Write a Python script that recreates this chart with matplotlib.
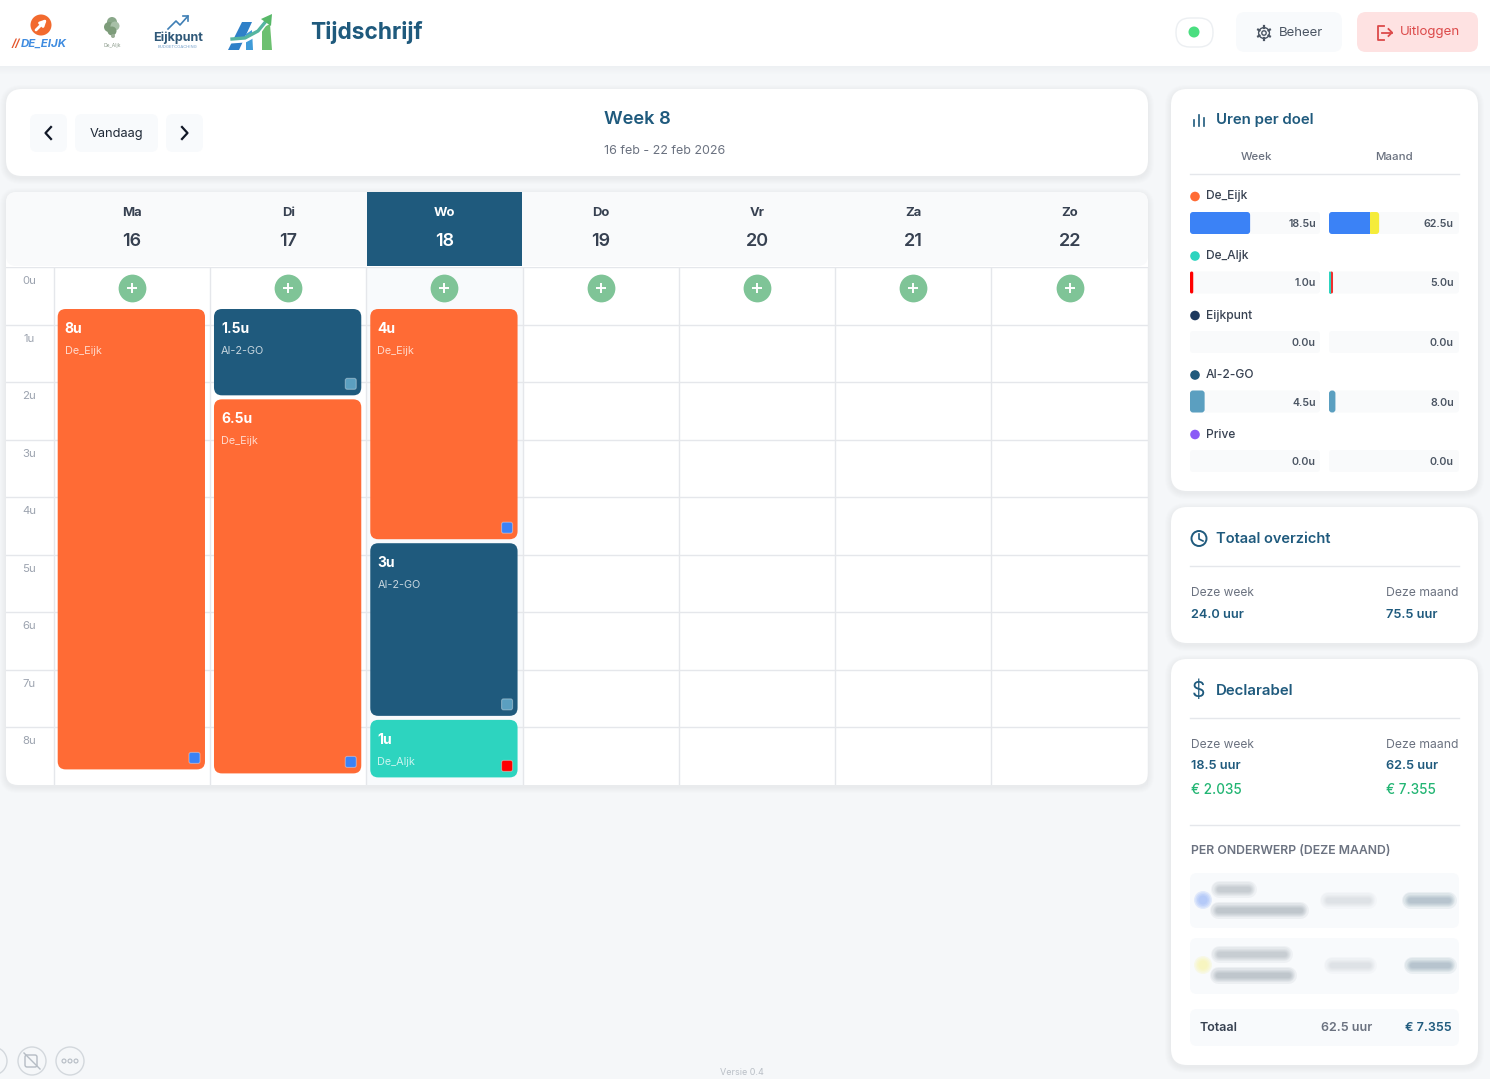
import matplotlib
matplotlib.use("Agg")
import numpy as np
import matplotlib.pyplot as plt
from matplotlib.patches import FancyBboxPatch, Circle, Polygon

plt.rcParams['font.family'] = ['Inter', 'DejaVu Sans']

# ---------- data ----------
days = ["Ma", "Di", "Wo", "Do", "Vr", "Za", "Zo"]
dates = [16, 17, 18, 19, 20, 21, 22]
today_index = 2
hours = list(range(9))
ma_hours = [8]
ma_names = ["De_Eijk"]
di_hours = [1.5, 6.5]
di_names = ["AI-2-GO", "De_Eijk"]
wo_hours = [4, 3, 1]
wo_names = ["De_Eijk", "AI-2-GO", "De_Aljk"]
goals = ["De_Eijk", "De_Aljk", "Eijkpunt", "AI-2-GO", "Prive"]
goal_week = [18.5, 1.0, 0.0, 4.5, 0.0]
goal_month_a = [51.0, 2.5, 0.0, 8.0, 0.0]
goal_month_b = [11.5, 2.5, 0.0, 0.0, 0.0]
week_total = "24.0 uur"
month_total = "75.5 uur"
bill_week = ["18.5 uur", "€ 2.035"]
bill_month = ["62.5 uur", "€ 7.355"]
total_row = ["Totaal", "62.5 uur", "€ 7.355"]

NAVY = "#1f5a7d"
ORANGE = "#ff6b35"
TEAL = "#2dd4bf"
name_colors = {"De_Eijk": ORANGE, "AI-2-GO": NAVY, "De_Aljk": TEAL}
tag_colors = {"De_Eijk": "#3b82f6", "AI-2-GO": "#5b9fc0", "De_Aljk": "#ff0000"}
dot_colors = [ORANGE, TEAL, "#1e3a5f", NAVY, "#8b5cf6"]
bar_a_colors = ["#3b82f6", TEAL, "#888888", "#5b9fc0", "#888888"]
bar_b_colors = ["#f5ec3a", "#ef3030", "#888888", "#5b9fc0", "#888888"]
week_bar_colors = ["#3b82f6", "#ff0000", "#888888", "#5b9fc0", "#888888"]

W, H = 1490, 1079
fig = plt.figure(figsize=(W / 100, H / 100), dpi=100, facecolor="#f5f7f9")
ax = fig.add_axes([0, 0, 1, 1], zorder=1)
ax.set_xlim(0, W)
ax.set_ylim(H, 0)
ax.axis("off")


def rbox(a, x0, y0, x1, y1, r, fc, ec="none", lw=0, z=2, alpha=None, aspect=1.0):
    r = min(r, (x1 - x0) / 2, (y1 - y0) / 2 / aspect)
    p = FancyBboxPatch((x0, y0), x1 - x0, y1 - y0, boxstyle=f"round,pad=0,rounding_size={r}",
                       fc=fc, ec=ec, lw=lw, zorder=z, alpha=alpha, mutation_aspect=aspect)
    a.add_patch(p)
    return p


def card(x0, y0, x1, y1, r=16):
    for i in range(6, 0, -1):
        rbox(ax, x0 - i, y0 - i + 2, x1 + i, y1 + i + 2, r + i, "#b8c0c8", z=1.5, alpha=0.028)
    rbox(ax, x0, y0, x1, y1, r, "white", z=2)


def t(x, y, s, size=10, color="#374151", weight="normal", ha="left", a=None, z=8, **kw):
    a = a or ax
    return a.text(x, y + 1, s, fontsize=size * 0.72, color=color, fontweight=weight, ha=ha, va="center",
                  zorder=z, **kw)


# ---------- header ----------
ax.fill_between([0, W], 0, 66, color="white", zorder=1.8, lw=0)
for i in range(8):
    ax.fill_between([0, W], 66 + i, 67 + i, color="#9aa5b0", alpha=0.08 * (1 - i / 8), zorder=1.7, lw=0)

# logos
ax.add_patch(Circle((41, 25), 10.5, fc="#f26a2e", ec="none", zorder=5))
ax.annotate("", xy=(47, 19), xytext=(36, 30), arrowprops=dict(arrowstyle="-|>", color="white", lw=2, mutation_scale=9, shrinkA=0, shrinkB=0), zorder=6)
t(12, 43, "//", 11, "#e4572e", "bold", style="italic")
t(21, 43, "DE_EIJK", 11.5, "#3f8ce0", "bold", style="italic")
for dx, dy, rad, col in [(0, -6, 5, "#8aa88a"), (-3, -1, 5, "#7d9c7a"), (3, -2, 4.5, "#a8c0a8"), (0, 3, 4.5, "#7d9c7a"), (1, 8, 2, "#9aae96")]:
    ax.add_patch(Circle((112 + dx, 28 + dy), rad, fc=col, ec="none", zorder=5))
t(112, 44, "De_Aljk", 5, "#8a9a8a", ha="center")
ax.plot([168, 176, 180, 188], [29, 21, 25, 16], color="#3f7fb5", lw=1.2, zorder=5)
ax.plot([183, 188, 188], [16, 16, 21], color="#3f7fb5", lw=1.2, zorder=5)
t(178, 37, "Eijkpunt", 12.6, "#2f5878", "bold", ha="center")
t(178, 46, "BUDGETCOACHING", 4.2, "#6f9cc8", ha="center")
ax.add_patch(Polygon([(228, 50), (242, 22), (252, 22), (239, 50)], fc="#2f80c8", ec="none", zorder=5))
ax.add_patch(Polygon([(246, 34), (252, 30), (253, 50), (246, 50)], fc="#3f9bd8", ec="none", zorder=5))
ax.add_patch(Polygon([(262, 28), (270, 24), (272, 50), (262, 50)], fc="#6cc070", ec="none", zorder=5))
ax.plot([231, 245, 258, 267], [41, 40, 33, 20], color="white", lw=3.6, zorder=5.5)
ax.plot([232, 245, 258, 267], [39, 38, 31, 20], color="#55b5a0", lw=2.4, zorder=6)
ax.add_patch(Polygon([(261, 19), (272, 14), (271, 26)], fc="#57b868", ec="none", zorder=6))
t(310, 31, "Tijdschrijf", 22.7, NAVY, "bold")

rbox(ax, 1176, 18, 1213, 47, 14, "white", "#eceff2", 1, z=3)
ax.add_patch(Circle((1194, 32), 5.5, fc="#4ade80", ec="none", zorder=5))
rbox(ax, 1236, 12, 1342, 52, 9, "#f8fafc", z=3)
ax.add_patch(Circle((1264, 33), 5.4, fc="none", ec="#4b5563", lw=1.0, zorder=5))
ax.add_patch(Circle((1264, 33), 2.2, fc="none", ec="#4b5563", lw=1.0, zorder=5))
for ang in np.arange(0, 360, 60) + 30:
    ca, sa = np.cos(np.radians(ang)), np.sin(np.radians(ang))
    ax.plot([1264 + 5.2 * ca, 1264 + 6.8 * ca], [33 + 5.2 * sa, 33 + 6.8 * sa], color="#4b5563", lw=1.6, zorder=5)
t(1279, 31.5, "Beheer", 13.2, "#4b5563")
rbox(ax, 1357, 12, 1478, 52, 9, "#fee2e2", z=3)
ax.plot([1384, 1378, 1378, 1384], [25.5, 25.5, 39.5, 39.5], color="#dc4a4a", lw=1.3, zorder=5)
ax.plot([1382, 1392], [32.5, 32.5], color="#dc4a4a", lw=1.3, zorder=5)
ax.plot([1388.5, 1392, 1388.5], [29, 32.5, 36], color="#dc4a4a", lw=1.3, zorder=5)
t(1400, 31.5, "Uitloggen", 13.3, "#dc4a4a")

# ---------- week card ----------
card(6, 89, 1148, 176)
for x0, x1 in [(30, 67), (75, 158), (166, 203)]:
    rbox(ax, x0, 114, x1, 152, 7, "#f8fafc", z=3)
ax.plot([51, 45.5, 51], [127, 133, 139], color="#111827", lw=1.6, zorder=5)
ax.plot([182, 187.5, 182], [127, 133, 139], color="#111827", lw=1.6, zorder=5)
t(116.5, 133, "Vandaag", 12.8, "#1f2937", ha="center")
t(604, 119, "Week 8", 18.3, NAVY, "semibold")
t(604, 150, "16 feb - 22 feb 2026", 12.5, "#6b7280")

# ---------- calendar ----------
card(6, 192, 1148, 785, r=12)
rbox(ax, 6, 192, 1148, 266, 10, "#f9fafb", z=2.2)
col_w = (1148 - 54) / 7
ax.fill_between([54 + today_index * col_w, 54 + (today_index + 1) * col_w - 0.5], 192, 266, color=NAVY, zorder=3, lw=0)
for i, (d, n) in enumerate(zip(days, dates)):
    cx = 54 + (i + 0.5) * col_w
    col = "white" if i == today_index else "#374151"
    t(cx, 212, d, 13, col, "bold", ha="center")
    t(cx, 240.5, str(n), 18, col, "semibold", ha="center")

x_left = -48 / col_w
hour_px = 57.55
cal = fig.add_axes([5.7 / W, 1 - 785 / H, (1148 - 6) / W, (785 - 267) / H], zorder=2)
cal.set_xlim(x_left, 7)
cal.set_ylim((785 - 267) / hour_px, 0)
cal.patch.set_alpha(0)
cal.axis("off")
asp = (1 / hour_px) / (1 / col_w)  # y units per x unit at equal pixels
cal.axvspan(today_index, today_index + 1, color="#f8fafc", zorder=0, lw=0)
for h in hours:
    cal.axhline(h, color="#e5e7eb", lw=1, zorder=1)
    cal.text(x_left + 23.5 / col_w, h + 14 / hour_px, f"{h}u", fontsize=8.2, color="#9ca3af", ha="center", va="center", zorder=3)
for i in range(8):
    cal.axvline(i, color="#e5e7eb", lw=1, zorder=1)

cal.scatter([i + 0.5 for i in range(7)], [0.365] * 7, s=400, c="#7fc497", lw=0, zorder=4)
cal.scatter([i + 0.5 for i in range(7)], [0.365] * 7, s=52, c="white", marker="+", lw=1.4, zorder=5)


def events(day, vals, names):
    y = 0.73
    for v, nm in zip(vals, names):
        x0, x1 = day + 4 / col_w, day + 1 - 5 / col_w
        rbox(cal, x0, y, x1, y + v, 8 / col_w, name_colors[nm], z=6, aspect=asp)
        cal.text(x0 + 7 / col_w, y + 20 / hour_px, f"{v:g}u", fontsize=10, fontweight="bold", color="white", va="center", zorder=7)
        cal.text(x0 + 7 / col_w, y + 42 / hour_px, nm, fontsize=7.8, color="white", alpha=0.75, va="center", zorder=7)
        sx1, sy1 = x1 - 5 / col_w, y + v - 6 / hour_px
        rbox(cal, sx1 - 11 / col_w, sy1 - 11 / hour_px, sx1, sy1, 2 / col_w, tag_colors[nm], "#ffffff55", 0.8, z=7, aspect=asp)
        y += v + 4 / hour_px


events(0, ma_hours, ma_names)
events(1, di_hours, di_names)
events(2, wo_hours, wo_names)

# ---------- uren per doel ----------
card(1171, 89, 1478, 491)
for x, h0 in [(1193.5, 120), (1198.5, 114.5), (1203.5, 117.5)]:
    ax.plot([x, x], [h0, 126], color=NAVY, lw=1.2, zorder=5)
t(1216, 119, "Uren per doel", 15, NAVY, "semibold")
t(1256, 156, "Week", 11.5, "#6b7280", "medium", ha="center")
t(1394, 156, "Maand", 11.5, "#6b7280", "medium", ha="center")
ax.plot([1190, 1459], [174, 174], color="#e5e7eb", lw=1, zorder=4)

row0, row_h = 223, 59.5
rows_top = 223 - row_h / 2
rows_bottom = rows_top + row_h * 5


def bar_axes(x0, x1, xmax):
    a = fig.add_axes([x0 / W, 1 - rows_bottom / H, (x1 - x0) / W, (rows_bottom - rows_top) / H], zorder=3)
    a.set_xlim(0, xmax)
    a.set_ylim(4.5, -0.5)
    a.patch.set_alpha(0)
    a.axis("off")
    return a


week_ax = bar_axes(1190, 1320, 40)
month_ax = bar_axes(1329, 1459, 162)
bh = 22 / row_h
for i, g in enumerate(goals):
    ax.add_patch(Circle((1195, 196.5 + 59.5 * i), 4.8, fc=dot_colors[i], ec="none", zorder=5))
    t(1206, 195.5 + 59.5 * i, g, 12, "#374151", "medium")
    for a, xmax in [(week_ax, 40), (month_ax, 162)]:
        ap = (1 / row_h) / (xmax / 130)
        rbox(a, 0, i - bh / 2, xmax, i + bh / 2, 3 * xmax / 130, "#f9fafb", z=1, aspect=ap)
    apw = (1 / row_h) / (40 / 130)
    apm = (1 / row_h) / (162 / 130)
    if goal_week[i] > 0:
        rbox(week_ax, 0, i - bh / 2, goal_week[i], i + bh / 2, 3 * 40 / 130, week_bar_colors[i], z=3, aspect=apw)
    a_v, b_v = goal_month_a[i], goal_month_b[i]
    if b_v > 0:
        rbox(month_ax, a_v - 1.5, i - bh / 2, a_v + b_v, i + bh / 2, 3 * 162 / 130, bar_b_colors[i], z=3, aspect=apm)
    if a_v > 0:
        if b_v > 0:
            rbox(month_ax, 0, i - bh / 2, a_v * 0.7, i + bh / 2, 3 * 162 / 130, bar_a_colors[i], z=4, aspect=apm)
            month_ax.barh(i, a_v * 0.7, left=a_v * 0.3, height=bh, color=bar_a_colors[i], zorder=4, lw=0)
        else:
            rbox(month_ax, 0, i - bh / 2, a_v, i + bh / 2, 3 * 162 / 130, bar_a_colors[i], z=4, aspect=apm)
    week_ax.text(1316, 224 + row_h * i, f"{goal_week[i]:.1f}u", fontsize=7.7, color="#4b5563", fontweight="semibold",
                 ha="right", va="center", transform=ax.transData, zorder=8)
    month_ax.text(1454, 224 + row_h * i, f"{a_v + b_v:.1f}u", fontsize=7.7, color="#4b5563", fontweight="semibold",
                  ha="right", va="center", transform=ax.transData, zorder=8)

# ---------- totaal overzicht ----------
card(1171, 507, 1478, 643)
ax.add_patch(Circle((1199, 538.5), 7.5, fc="none", ec=NAVY, lw=1.4, zorder=5))
ax.plot([1199, 1199, 1203], [534, 539, 541], color=NAVY, lw=1.2, zorder=5)
t(1216, 538, "Totaal overzicht", 14.6, NAVY, "semibold")
ax.plot([1190, 1459], [566, 566], color="#e5e7eb", lw=1, zorder=4)
t(1191, 592, "Deze week", 12, "#6b7280")
t(1386, 592, "Deze maand", 12.2, "#6b7280")
t(1191, 613.5, week_total, 12.8, NAVY, "semibold")
t(1386, 613.5, month_total, 12.8, NAVY, "semibold")

# ---------- declarabel ----------
card(1171, 659, 1478, 1065)
t(1198.5, 689.5, "$", 21, NAVY, "normal", ha="center")
t(1216, 690, "Declarabel", 15, NAVY, "semibold")
ax.plot([1190, 1459], [718, 718], color="#e5e7eb", lw=1, zorder=4)
t(1191, 744.5, "Deze week", 12, "#6b7280")
t(1386, 744.5, "Deze maand", 12.2, "#6b7280")
t(1191, 765, bill_week[0], 12.8, NAVY, "semibold")
t(1386, 765, bill_month[0], 12.8, NAVY, "semibold")
t(1191, 789.5, bill_week[1], 13.5, "#22b573", "medium")
t(1386, 789.5, bill_month[1], 13.5, "#22b573", "medium")
ax.plot([1190, 1459], [825, 825], color="#e5e7eb", lw=1, zorder=4)
t(1191, 850, "PER ONDERWERP (DEZE MAAND)", 12.3, "#6b7280", "semibold")
rbox(ax, 1190, 873, 1459, 928, 7, "#f8fafc", z=3)
rbox(ax, 1190, 938, 1459, 994, 7, "#f8fafc", z=3)
rbox(ax, 1190, 1009, 1459, 1046, 7, "#f8fafc", z=3)


def blur(x0, x1, y, color="#8d97a3", peak=0.1):
    for w in [17, 14, 11, 9, 7, 5]:
        ax.plot([x0, x1], [y, y], color=color, lw=w * 0.72, alpha=peak * 0.75, solid_capstyle="round", zorder=4)


def blur_dot(x, y, color):
    for r in [9, 7.5, 6, 4.5]:
        ax.add_patch(Circle((x, y), r, fc=color, ec="none", alpha=0.22, zorder=4))


blur_dot(1203, 900, "#8fb0f8")
blur_dot(1203, 965, "#f7f4a0")
blur(1219, 1248, 889, "#7d8792", 0.1)
blur(1218, 1300, 910, "#7d8792", 0.12)
blur(1328, 1368, 900, "#aab2bb", 0.08)
blur(1410, 1448, 900, "#6f8aa0", 0.13)
blur(1219, 1284, 954, "#7d8792", 0.1)
blur(1218, 1288, 975, "#7d8792", 0.12)
blur(1332, 1368, 965, "#aab2bb", 0.08)
blur(1412, 1448, 965, "#6f8aa0", 0.13)
t(1199, 1027, total_row[0], 12.5, "#374151", "semibold")
t(1372, 1027, total_row[1], 12.5, "#6b7280", "semibold", ha="right")
t(1452, 1027, total_row[2], 12.5, NAVY, "semibold", ha="right")

# ---------- footer ----------
for cx in [-7, 32, 70]:
    ax.add_patch(Circle((cx, 1061), 14, fc="#f5f7f9", ec="#d3d8dd", lw=1, zorder=4))
rbox(ax, 25, 1055, 37, 1067, 2, "none", "#b5bcc4", 1, z=5)
ax.plot([24, 40], [1053, 1069], color="#b5bcc4", lw=1, zorder=5)
ax.scatter([64, 70, 76], [1061] * 3, s=8, fc="none", ec="#b5bcc4", lw=0.8, zorder=5)
t(742, 1071.5, "Versie 0.4", 9, "#b9bfc6", ha="center")

fig.savefig("out.png", dpi=100, facecolor=fig.get_facecolor())
